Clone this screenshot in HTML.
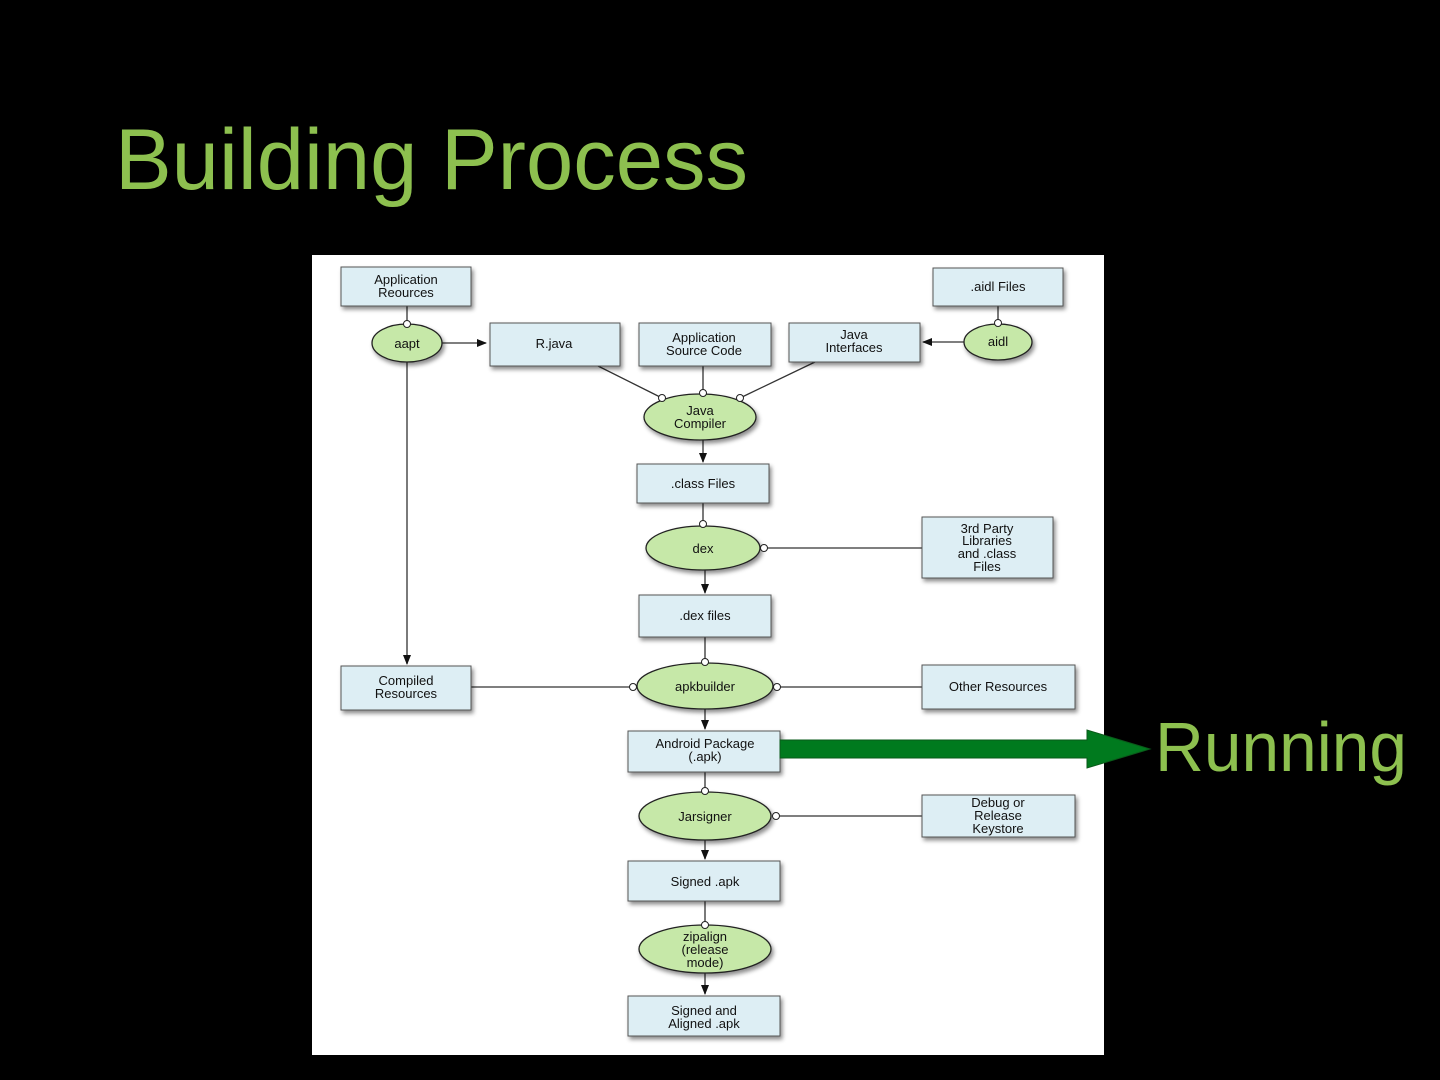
<!DOCTYPE html>
<html><head><meta charset="utf-8"><style>
html,body{margin:0;padding:0;background:#000;width:1440px;height:1080px;overflow:hidden}
svg{display:block}
</style></head><body>
<svg width="1440" height="1080" viewBox="0 0 1440 1080" xmlns="http://www.w3.org/2000/svg">
<defs>
<marker id="ah" markerWidth="10" markerHeight="10" refX="9" refY="5" orient="auto" markerUnits="userSpaceOnUse">
<path d="M0,1 L10,5 L0,9 z" fill="#111"/></marker>
<filter id="sh" x="-10%" y="-10%" width="130%" height="140%"><feDropShadow dx="2" dy="3" stdDeviation="2" flood-color="#000" flood-opacity="0.45"/></filter>
</defs>
<rect width="1440" height="1080" fill="#000"/>
<text x="115" y="189" font-family="Liberation Sans Narrow, Liberation Sans, sans-serif" font-size="86" fill="#8dc04f" textLength="633" lengthAdjust="spacingAndGlyphs">Building Process</text>
<rect x="312" y="255" width="792" height="800" fill="#fff"/>

<g stroke="#333" stroke-width="1.3" fill="none">
<line x1="407" y1="306" x2="407" y2="324"/>
<line x1="442" y1="343" x2="486" y2="343" marker-end="url(#ah)"/>
<line x1="407" y1="362" x2="407" y2="664" marker-end="url(#ah)"/>
<line x1="998" y1="306" x2="998" y2="324"/>
<line x1="964" y1="342" x2="923" y2="342" marker-end="url(#ah)"/>
<line x1="598" y1="366" x2="662" y2="398"/>
<line x1="703" y1="366" x2="703" y2="393"/>
<line x1="815" y1="362" x2="740" y2="398"/>
<line x1="703" y1="440" x2="703" y2="462" marker-end="url(#ah)"/>
<line x1="703" y1="503" x2="703" y2="524"/>
<line x1="765" y1="548" x2="922" y2="548"/>
<line x1="705" y1="570" x2="705" y2="593" marker-end="url(#ah)"/>
<line x1="705" y1="637" x2="705" y2="662"/>
<line x1="471" y1="687" x2="632" y2="687"/>
<line x1="778" y1="687" x2="922" y2="687"/>
<line x1="705" y1="709" x2="705" y2="729" marker-end="url(#ah)"/>
<line x1="705" y1="772" x2="705" y2="792"/>
<line x1="776" y1="816" x2="922" y2="816"/>
<line x1="705" y1="840" x2="705" y2="859" marker-end="url(#ah)"/>
<line x1="705" y1="901" x2="705" y2="925"/>
<line x1="705" y1="973" x2="705" y2="994" marker-end="url(#ah)"/>
</g>

<g fill="#ddeef4" stroke="#555" stroke-width="1" filter="url(#sh)">
<rect x="341" y="267" width="130" height="39"/>
<rect x="933" y="268" width="130" height="38"/>
<rect x="490" y="323" width="130" height="43"/>
<rect x="639" y="323" width="132" height="43"/>
<rect x="789" y="323" width="131" height="39"/>
<rect x="637" y="464" width="132" height="39"/>
<rect x="922" y="517" width="131" height="61"/>
<rect x="639" y="595" width="132" height="42"/>
<rect x="341" y="666" width="130" height="44"/>
<rect x="922" y="665" width="153" height="44"/>
<rect x="628" y="731" width="152" height="41"/>
<rect x="922" y="795" width="153" height="42"/>
<rect x="628" y="861" width="152" height="40"/>
<rect x="628" y="996" width="152" height="40"/>
</g>
<g fill="#c6e8a8" stroke="#222" stroke-width="1.3" filter="url(#sh)">
<ellipse cx="407" cy="343" rx="35" ry="19"/>
<ellipse cx="998" cy="342" rx="34" ry="18"/>
<ellipse cx="700" cy="417" rx="56" ry="23"/>
<ellipse cx="703" cy="548" rx="57" ry="22"/>
<ellipse cx="705" cy="686" rx="68" ry="23"/>
<ellipse cx="705" cy="816" rx="66" ry="24"/>
<ellipse cx="705" cy="949" rx="66" ry="24"/>
</g>
<g fill="#fff" stroke="#222" stroke-width="1">
<circle cx="407" cy="324" r="3.5"/>
<circle cx="998" cy="323" r="3.5"/>
<circle cx="662" cy="398" r="3.5"/>
<circle cx="703" cy="393" r="3.5"/>
<circle cx="740" cy="398" r="3.5"/>
<circle cx="703" cy="524" r="3.5"/>
<circle cx="764" cy="548" r="3.5"/>
<circle cx="705" cy="662" r="3.5"/>
<circle cx="633" cy="687" r="3.5"/>
<circle cx="777" cy="687" r="3.5"/>
<circle cx="705" cy="791" r="3.5"/>
<circle cx="776" cy="816" r="3.5"/>
<circle cx="705" cy="925" r="3.5"/>
</g>

<g font-family="Liberation Sans, sans-serif" font-size="13" fill="#111" text-anchor="middle">
<text x="406" y="284">Application</text><text x="406" y="297">Reources</text>
<text x="998" y="291">.aidl Files</text>
<text x="554" y="348">R.java</text>
<text x="704" y="342">Application</text><text x="704" y="355">Source Code</text>
<text x="854" y="339">Java</text><text x="854" y="352">Interfaces</text>
<text x="407" y="348">aapt</text>
<text x="998" y="346">aidl</text>
<text x="700" y="415">Java</text><text x="700" y="428">Compiler</text>
<text x="703" y="488">.class Files</text>
<text x="703" y="553">dex</text>
<text x="987" y="533">3rd Party</text><text x="987" y="545">Libraries</text><text x="987" y="558">and .class</text><text x="987" y="571">Files</text>
<text x="705" y="620">.dex files</text>
<text x="406" y="685">Compiled</text><text x="406" y="698">Resources</text>
<text x="705" y="691">apkbuilder</text>
<text x="998" y="691">Other Resources</text>
<text x="705" y="748">Android Package</text><text x="705" y="761">(.apk)</text>
<text x="705" y="821">Jarsigner</text>
<text x="998" y="807">Debug or</text><text x="998" y="820">Release</text><text x="998" y="833">Keystore</text>
<text x="705" y="886">Signed .apk</text>
<text x="705" y="941">zipalign</text><text x="705" y="954">(release</text><text x="705" y="967">mode)</text>
<text x="704" y="1015">Signed and</text><text x="704" y="1028">Aligned .apk</text>
</g>

<polygon points="780,740 1087,740 1087,730 1150,749 1087,768 1087,758 780,758" fill="#007a1e" stroke="#0a5a1a" stroke-width="1"/>
<text x="1155" y="771" font-family="Liberation Sans Narrow, Liberation Sans, sans-serif" font-size="70" fill="#8dc04f" textLength="252" lengthAdjust="spacingAndGlyphs">Running</text>
</svg>
</body></html>
